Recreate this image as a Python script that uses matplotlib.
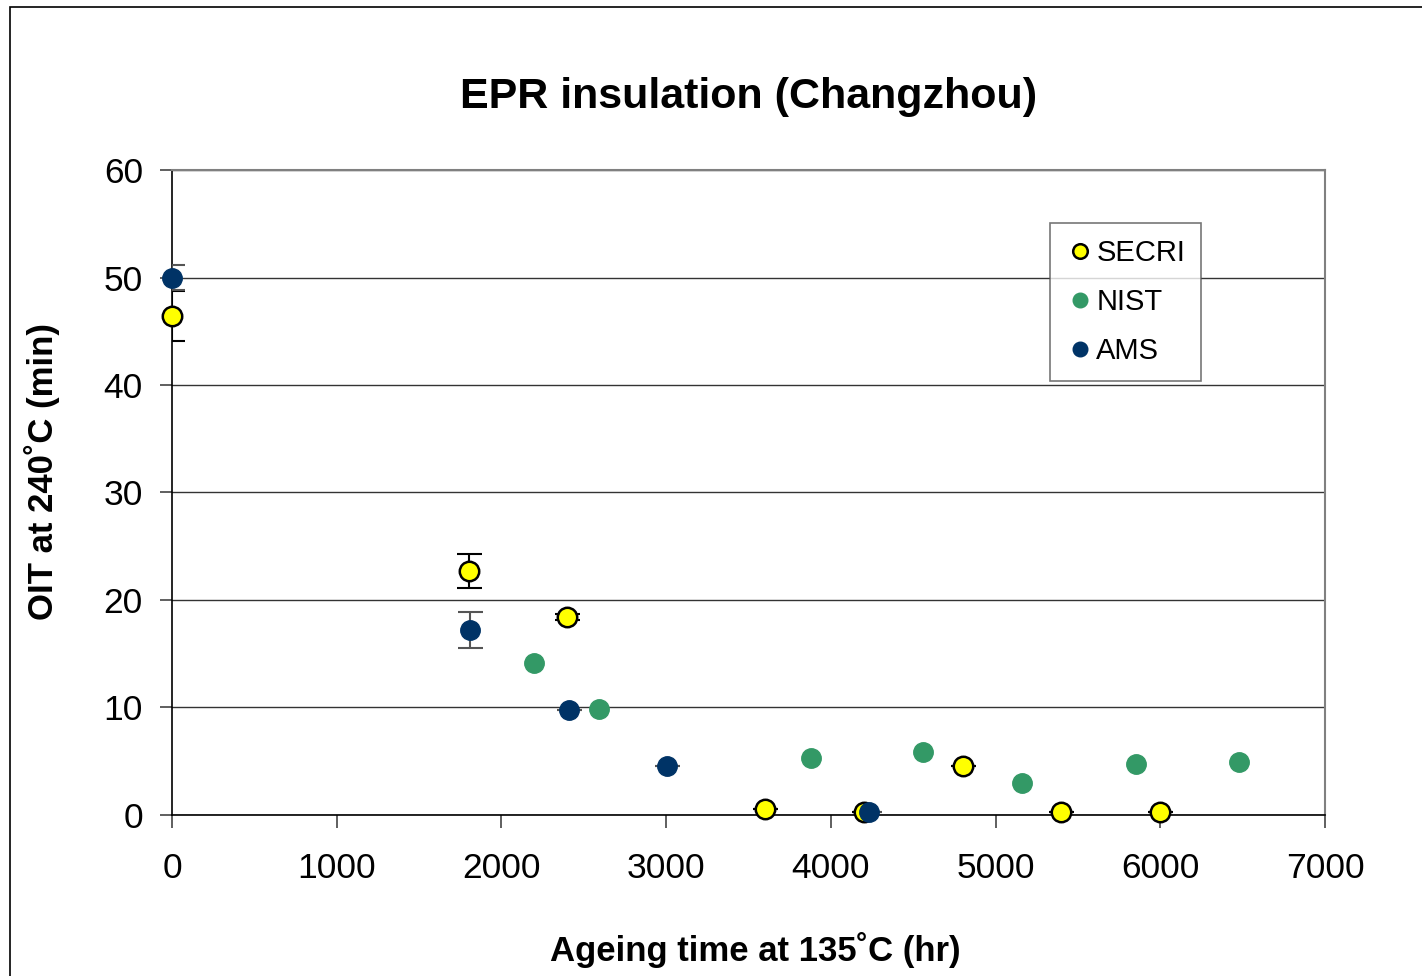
import matplotlib

matplotlib.use("Agg")
import matplotlib.pyplot as plt
from matplotlib.patches import Rectangle

plt.rcParams["font.family"] = ["Liberation Sans", "DejaVu Sans"]

# SECRI
secri_x = [0, 1800, 2400, 3600, 4200, 4800, 5400, 6000]
secri_y = [46.4, 22.7, 18.4, 0.6, 0.3, 4.6, 0.3, 0.3]
secri_err = [2.3, 1.6, 0.3, 0, 0, 0, 0, 0]

# NIST
nist_x = [2200, 2590, 3880, 4560, 5160, 5850, 6480]
nist_y = [14.1, 9.9, 5.3, 5.9, 3.0, 4.7, 4.9]

# AMS
ams_x = [0, 1810, 2410, 3005, 4230]
ams_y = [50.0, 17.2, 9.8, 4.6, 0.3]
ams_err = [1.2, 1.7, 0, 0, 0]

fig = plt.figure(figsize=(14.22, 9.76), dpi=100)
fig.patch.set_facecolor("white")
fig.add_artist(Rectangle((10 / 1422, -0.1), 1.2, 1.1 - 7 / 976,
                         transform=fig.transFigure, fill=False,
                         edgecolor="black", linewidth=1.2))
ax = fig.add_axes([0.121, 0.165, 0.8108, 0.6608])

ax.errorbar(secri_x, secri_y, yerr=secri_err, fmt="none", ecolor="black",
            elinewidth=1.5, capsize=9, capthick=1.5, zorder=3)
ax.errorbar(ams_x, ams_y, yerr=ams_err, fmt="none", ecolor="#555555",
            elinewidth=1.5, capsize=9, capthick=1.5, zorder=3)

ax.plot(secri_x, secri_y, "o", color="#FFFF00", markeredgecolor="black",
        markeredgewidth=1.8, markersize=14, label="SECRI", zorder=4, clip_on=False)
ax.plot(nist_x, nist_y, "o", color="#339966", markeredgecolor="#339966",
        markersize=14, label="NIST", zorder=4, clip_on=False)
ax.plot(ams_x, ams_y, "o", color="#003366", markeredgecolor="#003366",
        markersize=14, label="AMS", zorder=4, clip_on=False)

ax.set_xlim(0, 7000)
ax.set_ylim(0, 60)
ax.set_xticks(range(0, 7001, 1000))
ax.set_yticks(range(0, 61, 10))
ax.yaxis.grid(True, color="#333333", linewidth=1.0)
ax.set_axisbelow(True)
for side in ("top", "right"):
    ax.spines[side].set_color("#808080")
    ax.spines[side].set_linewidth(1.5)
for side in ("left", "bottom"):
    ax.spines[side].set_color("black")
    ax.spines[side].set_linewidth(1.2)
ax.tick_params(axis="both", labelsize=25.5, length=9, width=1.2,
               color="#444444", direction="out")
ax.tick_params(axis="x", pad=18)
ax.tick_params(axis="y", pad=12)

ax.set_title("EPR insulation (Changzhou)", fontsize=31, fontweight="bold", pad=45)
ax.set_xlabel("Ageing time at 135˚C (hr)", fontsize=25, fontweight="bold")
ax.xaxis.set_label_coords(0.5056, -0.181)
ax.set_ylabel("OIT at 240˚C (min)", fontsize=25, fontweight="bold")
ax.yaxis.set_label_coords(-0.097, 0.533)

leg = ax.legend(loc="upper left", bbox_to_anchor=(0.7485, 0.94), fontsize=21,
                frameon=True, fancybox=False, markerscale=0.75,
                handletextpad=0.05, handlelength=1.0, borderpad=0.55,
                labelspacing=0.72)
leg.get_frame().set_edgecolor("#555555")
leg.get_frame().set_linewidth(1.2)

fig.savefig("out.png", dpi=100)
